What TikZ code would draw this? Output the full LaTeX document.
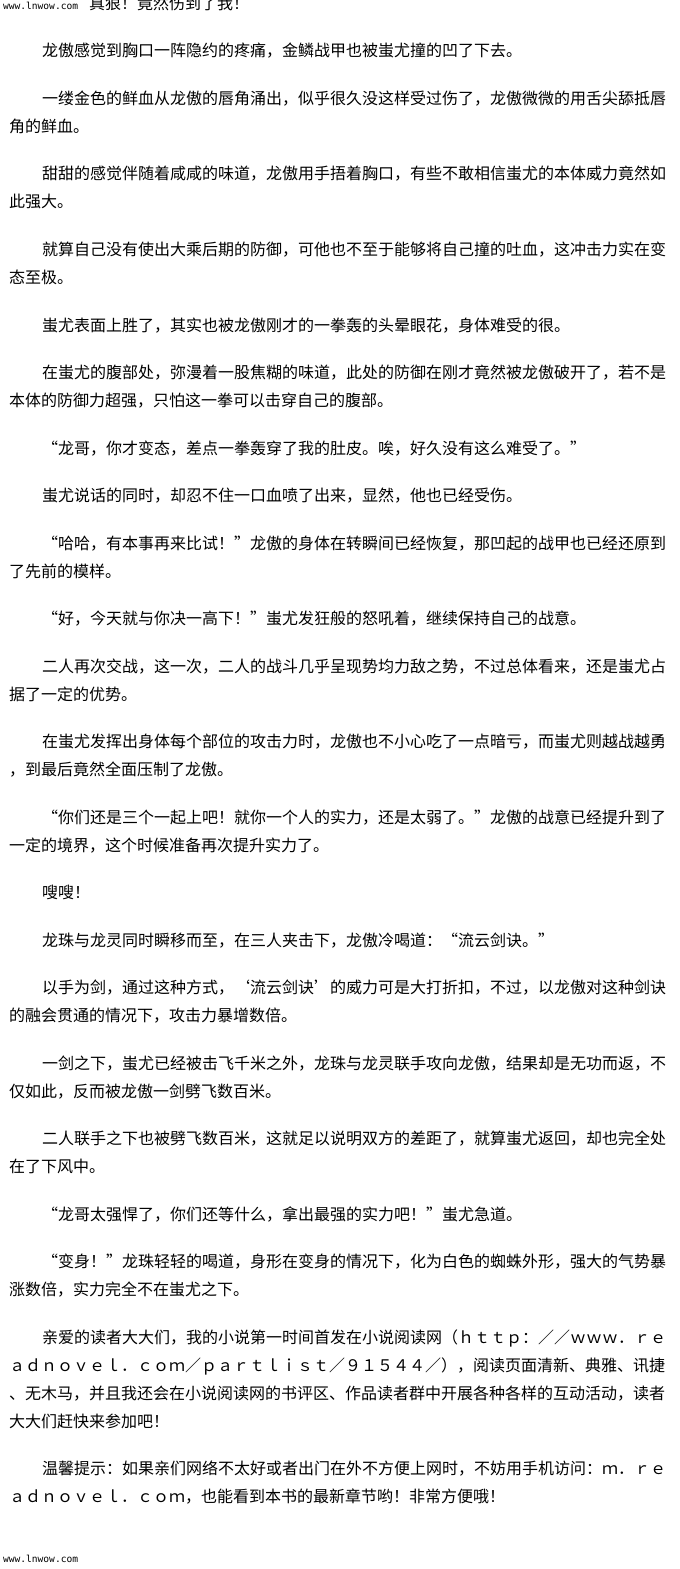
\documentclass[tikz,border=0pt]{standalone}
\usepackage{fontspec}
\newfontfamily\cjk[CharacterWidth=Full]{Noto Sans CJK SC}
\newfontfamily\wmfont{DejaVu Sans Mono}
\begin{document}
\begin{tikzpicture}[x=0.75pt,y=-0.75pt,
  txt/.style={anchor=base west, inner sep=0pt, outer sep=0pt, font={\cjk\fontsize{12pt}{12pt}\selectfont}},
  wm/.style={anchor=west, inner sep=0pt, outer sep=0pt, font={\wmfont\fontsize{7.2pt}{7.2pt}\selectfont}}]
\useasboundingbox (0,0) rectangle (680,1569);
\fill[white] (0,0) rectangle (680,1569);
% top, cut-off line
\node[txt] (top) at (73,9.5) {！真狠！竟然伤到了我！};
\fill[white] (0,0) rectangle (78,12);
\node[wm] (wmtop) at (3,6) {www.lnwow.com};
% paragraphs
\node[txt] (p1)  at (42,57)    {龙傲感觉到胸口一阵隐约的疼痛，金鳞战甲也被蚩尤撞的凹了下去。};
\node[txt] (p2a) at (42,104.5) {一缕金色的鲜血从龙傲的唇角涌出，似乎很久没这样受过伤了，龙傲微微的用舌尖舔抵唇};
\node[txt] (p2b) at (9,132.5)  {角的鲜血。};
\node[txt] (p3a) at (42,180)   {甜甜的感觉伴随着咸咸的味道，龙傲用手捂着胸口，有些不敢相信蚩尤的本体威力竟然如};
\node[txt] (p3b) at (9,208)    {此强大。};
\node[txt] (p4a) at (42,255.5) {就算自己没有使出大乘后期的防御，可他也不至于能够将自己撞的吐血，这冲击力实在变};
\node[txt] (p4b) at (9,283.5)  {态至极。};
\node[txt] (p5)  at (42,331)   {蚩尤表面上胜了，其实也被龙傲刚才的一拳轰的头晕眼花，身体难受的很。};
\node[txt] (p6a) at (42,378.5) {在蚩尤的腹部处，弥漫着一股焦糊的味道，此处的防御在刚才竟然被龙傲破开了，若不是};
\node[txt] (p6b) at (9,406.5)  {本体的防御力超强，只怕这一拳可以击穿自己的腹部。};
\node[txt] (p7)  at (42,454)   {“龙哥，你才变态，差点一拳轰穿了我的肚皮。唉，好久没有这么难受了。”};
\node[txt] (p8)  at (42,501.5) {蚩尤说话的同时，却忍不住一口血喷了出来，显然，他也已经受伤。};
\node[txt] (p9a) at (42,549)   {“哈哈，有本事再来比试！”龙傲的身体在转瞬间已经恢复，那凹起的战甲也已经还原到};
\node[txt] (p9b) at (9,577)    {了先前的模样。};
\node[txt] (p10) at (42,624.5) {“好，今天就与你决一高下！”蚩尤发狂般的怒吼着，继续保持自己的战意。};
\node[txt] (p11a) at (42,672)  {二人再次交战，这一次，二人的战斗几乎呈现势均力敌之势，不过总体看来，还是蚩尤占};
\node[txt] (p11b) at (9,700)   {据了一定的优势。};
\node[txt] (p12a) at (42,747.5) {在蚩尤发挥出身体每个部位的攻击力时，龙傲也不小心吃了一点暗亏，而蚩尤则越战越勇};
\node[txt] (p12b) at (9,775.5)  {，到最后竟然全面压制了龙傲。};
\node[txt] (p13a) at (42,823)   {“你们还是三个一起上吧！就你一个人的实力，还是太弱了。”龙傲的战意已经提升到了};
\node[txt] (p13b) at (9,851)    {一定的境界，这个时候准备再次提升实力了。};
\node[txt] (p14) at (42,898.5)  {嗖嗖！};
\node[txt] (p15) at (42,946)    {龙珠与龙灵同时瞬移而至，在三人夹击下，龙傲冷喝道：“流云剑诀。”};
\node[txt] (p16a) at (42,993.5) {以手为剑，通过这种方式，‘流云剑诀’的威力可是大打折扣，不过，以龙傲对这种剑诀};
\node[txt] (p16b) at (9,1021.5) {的融会贯通的情况下，攻击力暴增数倍。};
\node[txt] (p17a) at (42,1069)  {一剑之下，蚩尤已经被击飞千米之外，龙珠与龙灵联手攻向龙傲，结果却是无功而返，不};
\node[txt] (p17b) at (9,1097)   {仅如此，反而被龙傲一剑劈飞数百米。};
\node[txt] (p18a) at (42,1144.5) {二人联手之下也被劈飞数百米，这就足以说明双方的差距了，就算蚩尤返回，却也完全处};
\node[txt] (p18b) at (9,1172.5)  {在了下风中。};
\node[txt] (p19) at (42,1220)    {“龙哥太强悍了，你们还等什么，拿出最强的实力吧！”蚩尤急道。};
\node[txt] (p20a) at (42,1267.5) {“变身！”龙珠轻轻的喝道，身形在变身的情况下，化为白色的蜘蛛外形，强大的气势暴};
\node[txt] (p20b) at (9,1295.5)  {涨数倍，实力完全不在蚩尤之下。};
\node[txt] (p21a) at (42,1343)   {亲爱的读者大大们，我的小说第一时间首发在小说阅读网（ｈｔｔｐ：／／ｗｗｗ．ｒｅ};
\node[txt] (p21b) at (9,1371)    {ａｄｎｏｖｅｌ．ｃｏｍ／ｐａｒｔｌｉｓｔ／９１５４４／），阅读页面清新、典雅、讯捷};
\node[txt] (p21c) at (9,1399)    {、无木马，并且我还会在小说阅读网的书评区、作品读者群中开展各种各样的互动活动，读者};
\node[txt] (p21d) at (9,1427)    {大大们赶快来参加吧！};
\node[txt] (p22a) at (42,1474.5) {温馨提示：如果亲们网络不太好或者出门在外不方便上网时，不妨用手机访问：ｍ．ｒｅ};
\node[txt] (p22b) at (9,1502.5)  {ａｄｎｏｖｅｌ．ｃｏｍ，也能看到本书的最新章节哟！非常方便哦！};
% bottom watermark
\node[wm] (wmbot) at (3,1559) {www.lnwow.com};
\end{tikzpicture}
\end{document}
